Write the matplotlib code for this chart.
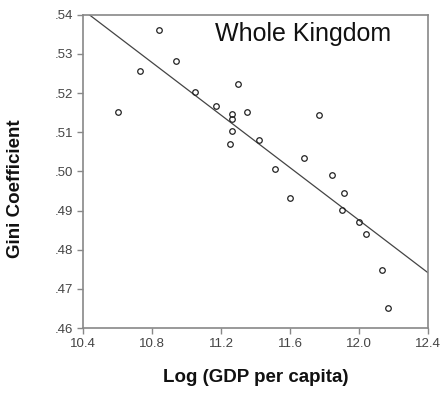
import numpy as np
import matplotlib.pyplot as plt

plt.rcParams['font.family'] = ['Liberation Sans', 'DejaVu Sans']

# log GDP per capita vs Gini coefficient, by province
log_gdp = [10.60, 10.73, 10.84, 10.94, 11.05, 11.17, 11.26, 11.26, 11.26, 11.25,
           11.30, 11.35, 11.42, 11.51, 11.60, 11.68, 11.77, 11.84, 11.91, 11.90,
           12.00, 12.04, 12.13, 12.17]
gini = [.5153, .5257, .5362, .5282, .5202, .5167, .5147, .5134, .5103, .5070,
        .5223, .5152, .5081, .5006, .4933, .5035, .5143, .4991, .4946, .4902,
        .4870, .4840, .4747, .4652]

# fitted regression line: gini = a + b * log_gdp
fit_a = 0.8900
fit_b = -0.03354

x_ticks = [10.4, 10.8, 11.2, 11.6, 12.0, 12.4]
y_ticks = [.46, .47, .48, .49, .50, .51, .52, .53, .54]

fig = plt.figure(figsize=(4.42, 4.01), dpi=100)
ax = fig.add_axes([0.1885, 0.182, 0.780, 0.781])

xs = np.array([10.4, 12.4])
ax.plot(xs, fit_a + fit_b * xs, color='#444444', lw=0.9)
ax.plot(log_gdp, gini, 'o', ms=4.0, mfc='none', mec='#222222', mew=0.9)

ax.set_xlim(10.4, 12.4)
ax.set_ylim(.46, .54)
ax.set_xticks(x_ticks)
ax.set_xticklabels(['%.1f' % v for v in x_ticks])
ax.set_yticks(y_ticks)
ax.set_yticklabels([('%.2f' % v)[1:] for v in y_ticks])

for sp in ax.spines.values():
    sp.set_color('#888888')
    sp.set_linewidth(1.2)
ax.tick_params(direction='out', length=4.5, width=1, color='#888888',
               labelsize=9.5, labelcolor='#444444', pad=3)

ax.text(0.637, 0.939, 'Whole Kingdom', transform=ax.transAxes, fontsize=18,
        ha='center', va='center', color='#111111')

fig.text(256 / 442, 1 - 377 / 401, 'Log (GDP per capita)', fontsize=13.5,
         fontweight='bold', ha='center', va='center', color='#111111')
fig.text(16 / 442, 1 - 189 / 401, 'Gini Coefficient', fontsize=13.5,
         fontweight='bold', ha='center', va='center', rotation=90, color='#111111')

fig.savefig('out.png', dpi=100)
